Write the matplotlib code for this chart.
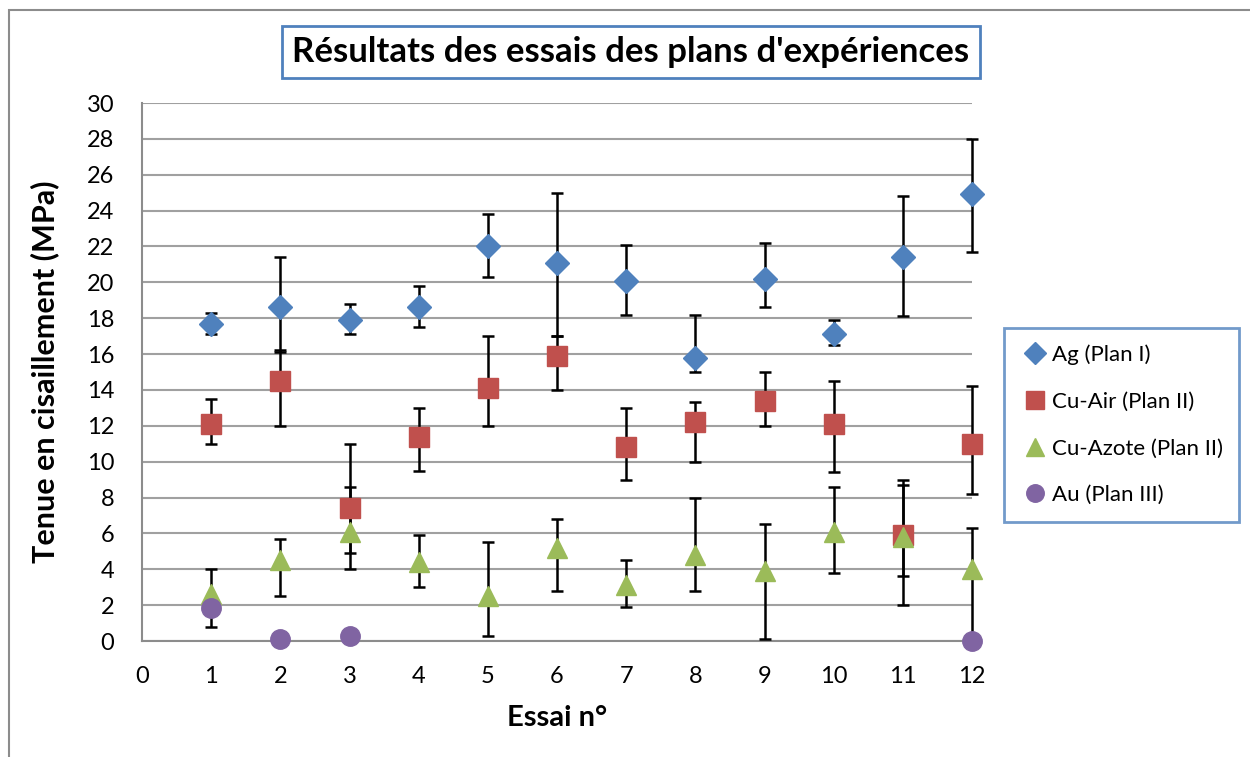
import numpy as np
import matplotlib.pyplot as plt
from matplotlib.patches import Rectangle

# Data
essais = np.arange(1, 13)

ag = [17.7, 18.6, 17.9, 18.6, 22.0, 21.1, 20.1, 15.8, 20.2, 17.1, 21.4, 24.9]
ag_plus = [0.6, 2.8, 0.9, 1.2, 1.8, 3.9, 2.0, 2.4, 2.0, 0.8, 3.4, 3.1]
ag_minus = [0.6, 2.5, 0.8, 1.1, 1.7, 4.1, 1.9, 0.8, 1.6, 0.6, 3.3, 3.2]

cu_air = [12.1, 14.5, 7.4, 11.4, 14.1, 15.9, 10.8, 12.2, 13.4, 12.1, 5.9, 11.0]
cu_air_plus = [1.4, 1.7, 3.6, 1.6, 2.9, 1.1, 2.2, 1.1, 1.6, 2.4, 3.1, 3.2]
cu_air_minus = [1.1, 2.5, 3.4, 1.9, 2.1, 1.9, 1.8, 2.2, 1.4, 2.7, 2.3, 2.8]

cu_azote = [2.6, 4.5, 6.1, 4.4, 2.5, 5.2, 3.1, 4.8, 3.9, 6.1, 5.8, 4.0]
cu_azote_plus = [1.4, 1.2, 2.5, 1.5, 3.0, 1.6, 1.4, 3.2, 2.6, 2.5, 2.9, 2.3]
cu_azote_minus = [1.8, 2.0, 1.2, 1.4, 2.2, 2.4, 1.2, 2.0, 3.8, 2.3, 3.8, 4.0]

au_x = [1, 2, 3, 12]
au = [1.85, 0.12, 0.3, 0.0]

plt.rcParams['font.family'] = ['Lato', 'DejaVu Sans']

fig = plt.figure(figsize=(12.5, 7.57), dpi=100)
ax = fig.add_axes([142 / 1250, 1 - 641 / 757, 830 / 1250, 538 / 757])

# chart area border
fig.patches.append(Rectangle((9 / 1250, -0.1), 1.2, 1 - 10 / 757 + 0.1,
                             transform=fig.transFigure, fill=False,
                             edgecolor='#8c8c8c', linewidth=1.5))

err_kw = dict(fmt='none', ecolor='black', elinewidth=1.8, capsize=4,
              capthick=1.8, clip_on=False, zorder=3)

ax.errorbar(essais, ag, yerr=[ag_minus, ag_plus], **err_kw)
ax.plot(essais, ag, 'D', color='#4F81BD', markersize=12, linestyle='none',
        label='Ag (Plan I)', clip_on=False, zorder=4)

ax.errorbar(essais, cu_air, yerr=[cu_air_minus, cu_air_plus], **err_kw)
ax.plot(essais, cu_air, 's', color='#C0504D', markersize=14, linestyle='none',
        label='Cu-Air (Plan II)', clip_on=False, zorder=4)

ax.errorbar(essais, cu_azote, yerr=[cu_azote_minus, cu_azote_plus], **err_kw)
ax.plot(essais, cu_azote, '^', color='#9BBB59', markersize=15, linestyle='none',
        label='Cu-Azote (Plan II)', clip_on=False, zorder=5)

ax.plot(au_x, au, 'o', color='#8064A2', markersize=14, linestyle='none',
        label='Au (Plan III)', clip_on=False, zorder=6)

ax.set_xlim(0, 12)
ax.set_ylim(0, 30)
ax.set_xticks(range(0, 13))
ax.set_yticks(range(0, 31, 2))
ax.yaxis.grid(True, color='#a0a0a0', linewidth=1.5)
ax.set_axisbelow(True)
for s in ['top', 'right']:
    ax.spines[s].set_visible(False)
for s in ['left', 'bottom']:
    ax.spines[s].set_color('#8c8c8c')
    ax.spines[s].set_linewidth(1.5)
ax.tick_params(length=0, labelsize=17)
ax.tick_params(axis='y', pad=20)
ax.tick_params(axis='x', pad=18)

fig.text(45 / 1250, 1 - 372 / 757, 'Tenue en cisaillement (MPa)', rotation=90,
         ha='center', va='center', fontsize=22, fontweight='bold')
fig.text(557 / 1250, 1 - 718 / 757, 'Essai n°', ha='center', va='center',
         fontsize=21, fontweight='bold')

fig.text(631 / 1250, 1 - 52 / 757, "Résultats des essais des plans d'expériences",
         ha='center', va='center', fontsize=25, fontweight='bold',
         bbox=dict(boxstyle='square,pad=0.3', facecolor='white',
                   edgecolor='#4F81BD', linewidth=2))

leg = fig.legend(loc='upper left', bbox_to_anchor=(1004 / 1250, 1 - 328 / 757),
                 borderaxespad=0, fontsize=16, frameon=True, fancybox=False,
                 borderpad=0.75, labelspacing=1.2, handletextpad=0.1,
                 handlelength=1.3, markerscale=0.9)
leg.get_frame().set_edgecolor('#4F81BD')
leg.get_frame().set_linewidth(2)

fig.savefig('out.png', dpi=100)
